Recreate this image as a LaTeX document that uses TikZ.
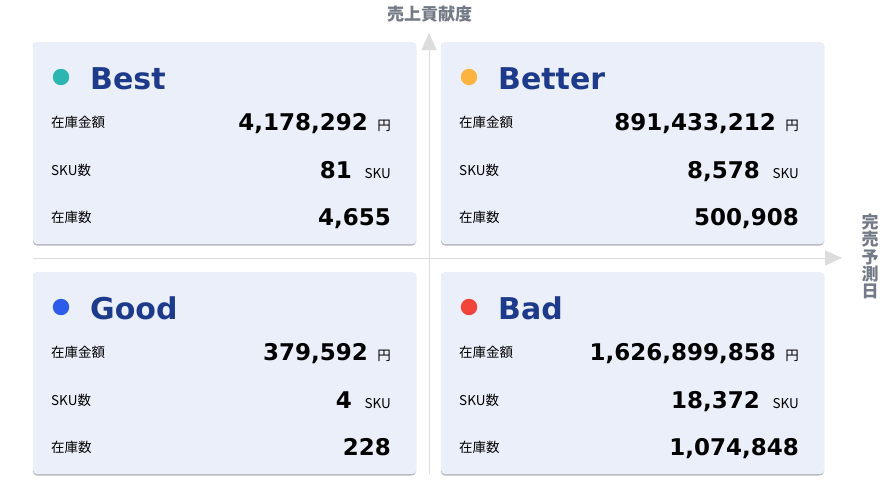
\documentclass[tikz,border=0pt]{standalone}
\usepackage{fontspec}
\setmainfont{DejaVu Sans}
\newfontfamily\jp{Noto Sans CJK JP}
\usetikzlibrary{arrows.meta}
\definecolor{cardbg}{HTML}{EBEFF9}
\definecolor{titleblue}{HTML}{1E3A8A}
\definecolor{axisgray}{HTML}{DCDCDC}
\definecolor{labelgray}{HTML}{737A86}
\definecolor{shadowgray}{HTML}{B4B6BD}
\definecolor{cteal}{HTML}{2BB6B1}
\definecolor{corange}{HTML}{FDB33F}
\definecolor{cblue}{HTML}{2E5BEA}
\definecolor{cred}{HTML}{F2443A}
\tikzset{
  cardbox/.style={fill=cardbg, rounded corners=4pt, draw=none},
  cardshadow/.style={fill=shadowgray, rounded corners=4pt, draw=none},
  titletext/.style={anchor=base west, inner sep=0pt, text=titleblue, font=\fontsize{30}{31}\selectfont\bfseries},
  rowlabel/.style={anchor=west, inner sep=0pt, font=\jp\fontsize{13.5}{14}\selectfont},
  rownum/.style={anchor=base east, inner sep=0pt, font=\fontsize{23}{24}\selectfont\bfseries},
  rowunit/.style={anchor=base east, inner sep=0pt, font=\jp\fontsize{13.5}{14}\selectfont},
  axisline/.style={draw=axisgray, line width=1pt, -{Triangle[length=17pt,width=15pt]}},
  axislabel/.style={text=labelgray, inner sep=0pt, font=\jp\fontsize{17}{17.4}\selectfont\bfseries}
}
\newcommand\qcard[8]{%
  \begin{scope}[shift={(#2,#3)}]
    \fill[cardshadow] (0,0.5) rectangle (383,203.5);
    \node[cardbox, minimum width=383pt, minimum height=202pt, anchor=north west, inner sep=0pt] (#1card) at (0,0) {};
    \fill[#4] (28,35) circle (8.2pt);
    \coordinate (#1dot) at (28,35);
    \node[titletext] (#1title) at (57,47) {#5};
    \node[rowlabel] (#1la) at (18,80) {在庫金額};
    \node[rownum] (#1va) at (335,88) {#6};
    \node[rowunit] (#1ua) at (358,88) {円};
    \node[rowlabel] (#1lb) at (18,128) {SKU数};
    \node[rownum] (#1vb) at (319,136) {#7};
    \node[rowunit] (#1ub) at (358,136) {SKU};
    \node[rowlabel] (#1lc) at (18,175) {在庫数};
    \node[rownum] (#1vc) at (358,183) {#8};
  \end{scope}}
\begin{document}
\begin{tikzpicture}[x=1pt,y=-1pt]
\useasboundingbox (0,0) rectangle (888,490);
\fill[white] (0,0) rectangle (888,490);
% axes
\coordinate (vstart) at (429,474);
\coordinate (vend) at (429,33);
\coordinate (hstart) at (33,258);
\coordinate (hend) at (842,258);
\draw[axisline] (vstart) -- (vend);
\draw[axisline] (hstart) -- (hend);
\node[axislabel] (ylabel) at (429.5,14.5) {売上貢献度};
\node[axislabel, align=center] (xlabel) at (870,256.5) {完\\売\\予\\測\\日};
% cards
\qcard{best}{33}{42}{cteal}{Best}{4,178,292}{81}{4,655}
\qcard{better}{441}{42}{corange}{Better}{891,433,212}{8,578}{500,908}
\qcard{good}{33}{272}{cblue}{Good}{379,592}{4}{228}
\qcard{bad}{441}{272}{cred}{Bad}{1,626,899,858}{18,372}{1,074,848}
\end{tikzpicture}
\end{document}
